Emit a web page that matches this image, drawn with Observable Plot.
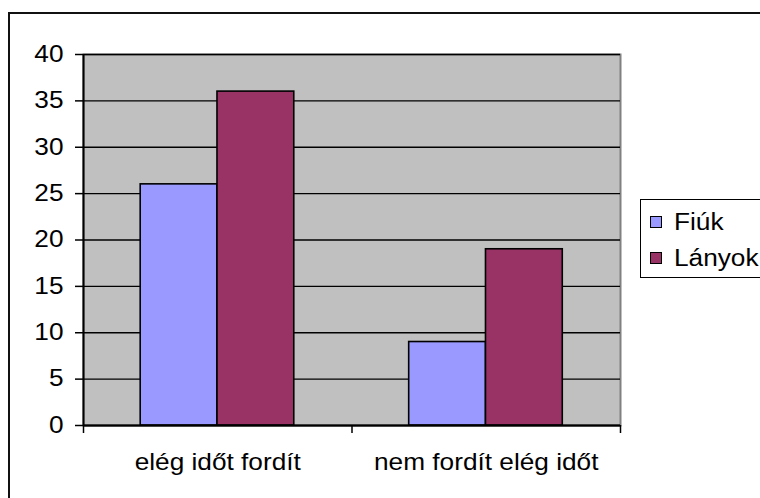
<!DOCTYPE html>
<html>
<head>
<meta charset="utf-8">
<script src="https://cdn.jsdelivr.net/npm/d3@7"></script>
<script src="https://cdn.jsdelivr.net/npm/@observablehq/plot@0.6"></script>
<style>
  html, body { margin: 0; padding: 0; background: #fff; overflow: hidden; }
  #wrap { position: relative; width: 760px; height: 498px; overflow: hidden; font-family: "Liberation Sans", Arial, sans-serif; }
  #outer { position: absolute; left: 8px; top: 12px; width: 900px; height: 700px; border-left: 2.5px solid #111; border-top: 2.5px solid #111; box-sizing: border-box; pointer-events: none; }
  #chart { position: absolute; left: 0; top: 0; }
  #legend { position: absolute; left: 640px; top: 199px; width: 200px; height: 79px; border: 1.5px solid #000; box-sizing: border-box; background: #fff; }
  .item { position: absolute; left: 9px; height: 24px; display: flex; align-items: center; }
  .sw { width: 12px; height: 12px; border: 1.3px solid #000; box-sizing: border-box; margin-right: 12px; }
  .lab { font-size: 23px; color: #000; display: inline-block; transform: scaleX(1.14); transform-origin: left center; }
</style>
</head>
<body>
<div id="wrap">
  <div id="chart"></div>
  <div id="outer"></div>
  <div id="legend"></div>
</div>
<script>
const categories = ["elég időt fordít", "nem fordít elég időt"];
const series = ["Fiúk", "Lányok"];
const fiuk = [26, 9];
const lanyok = [36, 19];
const yTicks = [0, 5, 10, 15, 20, 25, 30, 35, 40];
const colors = ["#9999FF", "#993366"];

const valuesBySeries = [fiuk, lanyok];
const data = categories.flatMap((c, gi) =>
  series.map((s, si) => ({category: c, gi, series: s, si, value: valuesBySeries[si][gi]}))
);

// bar layout within each category band (fractions of the band)
const pad = 0.213, bw = 0.286;

const plot = Plot.plot({
  width: 760,
  height: 498,
  marginLeft: 83,
  marginRight: 140,
  marginTop: 54,
  marginBottom: 73,
  style: {fontFamily: "Liberation Sans, Arial, sans-serif", fontSize: "23px", background: "transparent", color: "#000"},
  x: {domain: [0, categories.length], label: null},
  y: {domain: [0, 40], label: null, nice: false},
  color: {domain: series, range: colors},
  marks: [
    Plot.frame({fill: "#C0C0C0", stroke: "#808080", strokeWidth: 2}),
    Plot.gridY(yTicks, {stroke: "#000", strokeOpacity: 1, strokeWidth: 1.3}),
    Plot.rect(data, {
      x1: d => d.gi + pad + d.si * bw,
      x2: d => d.gi + pad + (d.si + 1) * bw,
      y1: 0,
      y2: "value",
      fill: "series",
      stroke: "#000",
      strokeWidth: 1.6
    }),
    Plot.ruleX([0], {stroke: "#000", strokeWidth: 2}),
    Plot.ruleY([0], {stroke: "#000", strokeWidth: 2}),
    Plot.axisY({ticks: yTicks, tickSize: 8, tickPadding: 12, stroke: "#000", strokeWidth: 1.5, fill: "#000"}),
    Plot.axisX({ticks: d3.range(categories.length + 1), tickSize: 8, tickFormat: () => "", stroke: "#000", strokeWidth: 1.5}),
    Plot.axisX({ticks: categories.map((c, i) => i + 0.5), tickSize: 0, tickPadding: 28, tickFormat: v => categories[Math.floor(v)], fill: "#000"})
  ]
});

document.getElementById("chart").appendChild(plot);

// widen text horizontally to match the reference's stretched Arial
plot.querySelectorAll("text").forEach(t => {
  if (!t.textContent) return;
  const b = t.getBBox();
  const anchor = getComputedStyle(t).textAnchor;
  const ax = anchor === "end" ? b.x + b.width : anchor === "middle" ? b.x + b.width / 2 : b.x;
  const prev = t.getAttribute("transform") || "";
  t.setAttribute("transform", `${prev} translate(${ax},0) scale(1.14,1) translate(${-ax},0)`);
});

const legend = document.getElementById("legend");
series.forEach((s, i) => {
  const item = document.createElement("div");
  item.className = "item";
  item.style.top = (10 + i * 36) + "px";
  const sw = document.createElement("div");
  sw.className = "sw";
  sw.style.background = colors[i];
  const lab = document.createElement("span");
  lab.className = "lab";
  lab.textContent = s;
  item.appendChild(sw);
  item.appendChild(lab);
  legend.appendChild(item);
});
</script>
</body>
</html>
